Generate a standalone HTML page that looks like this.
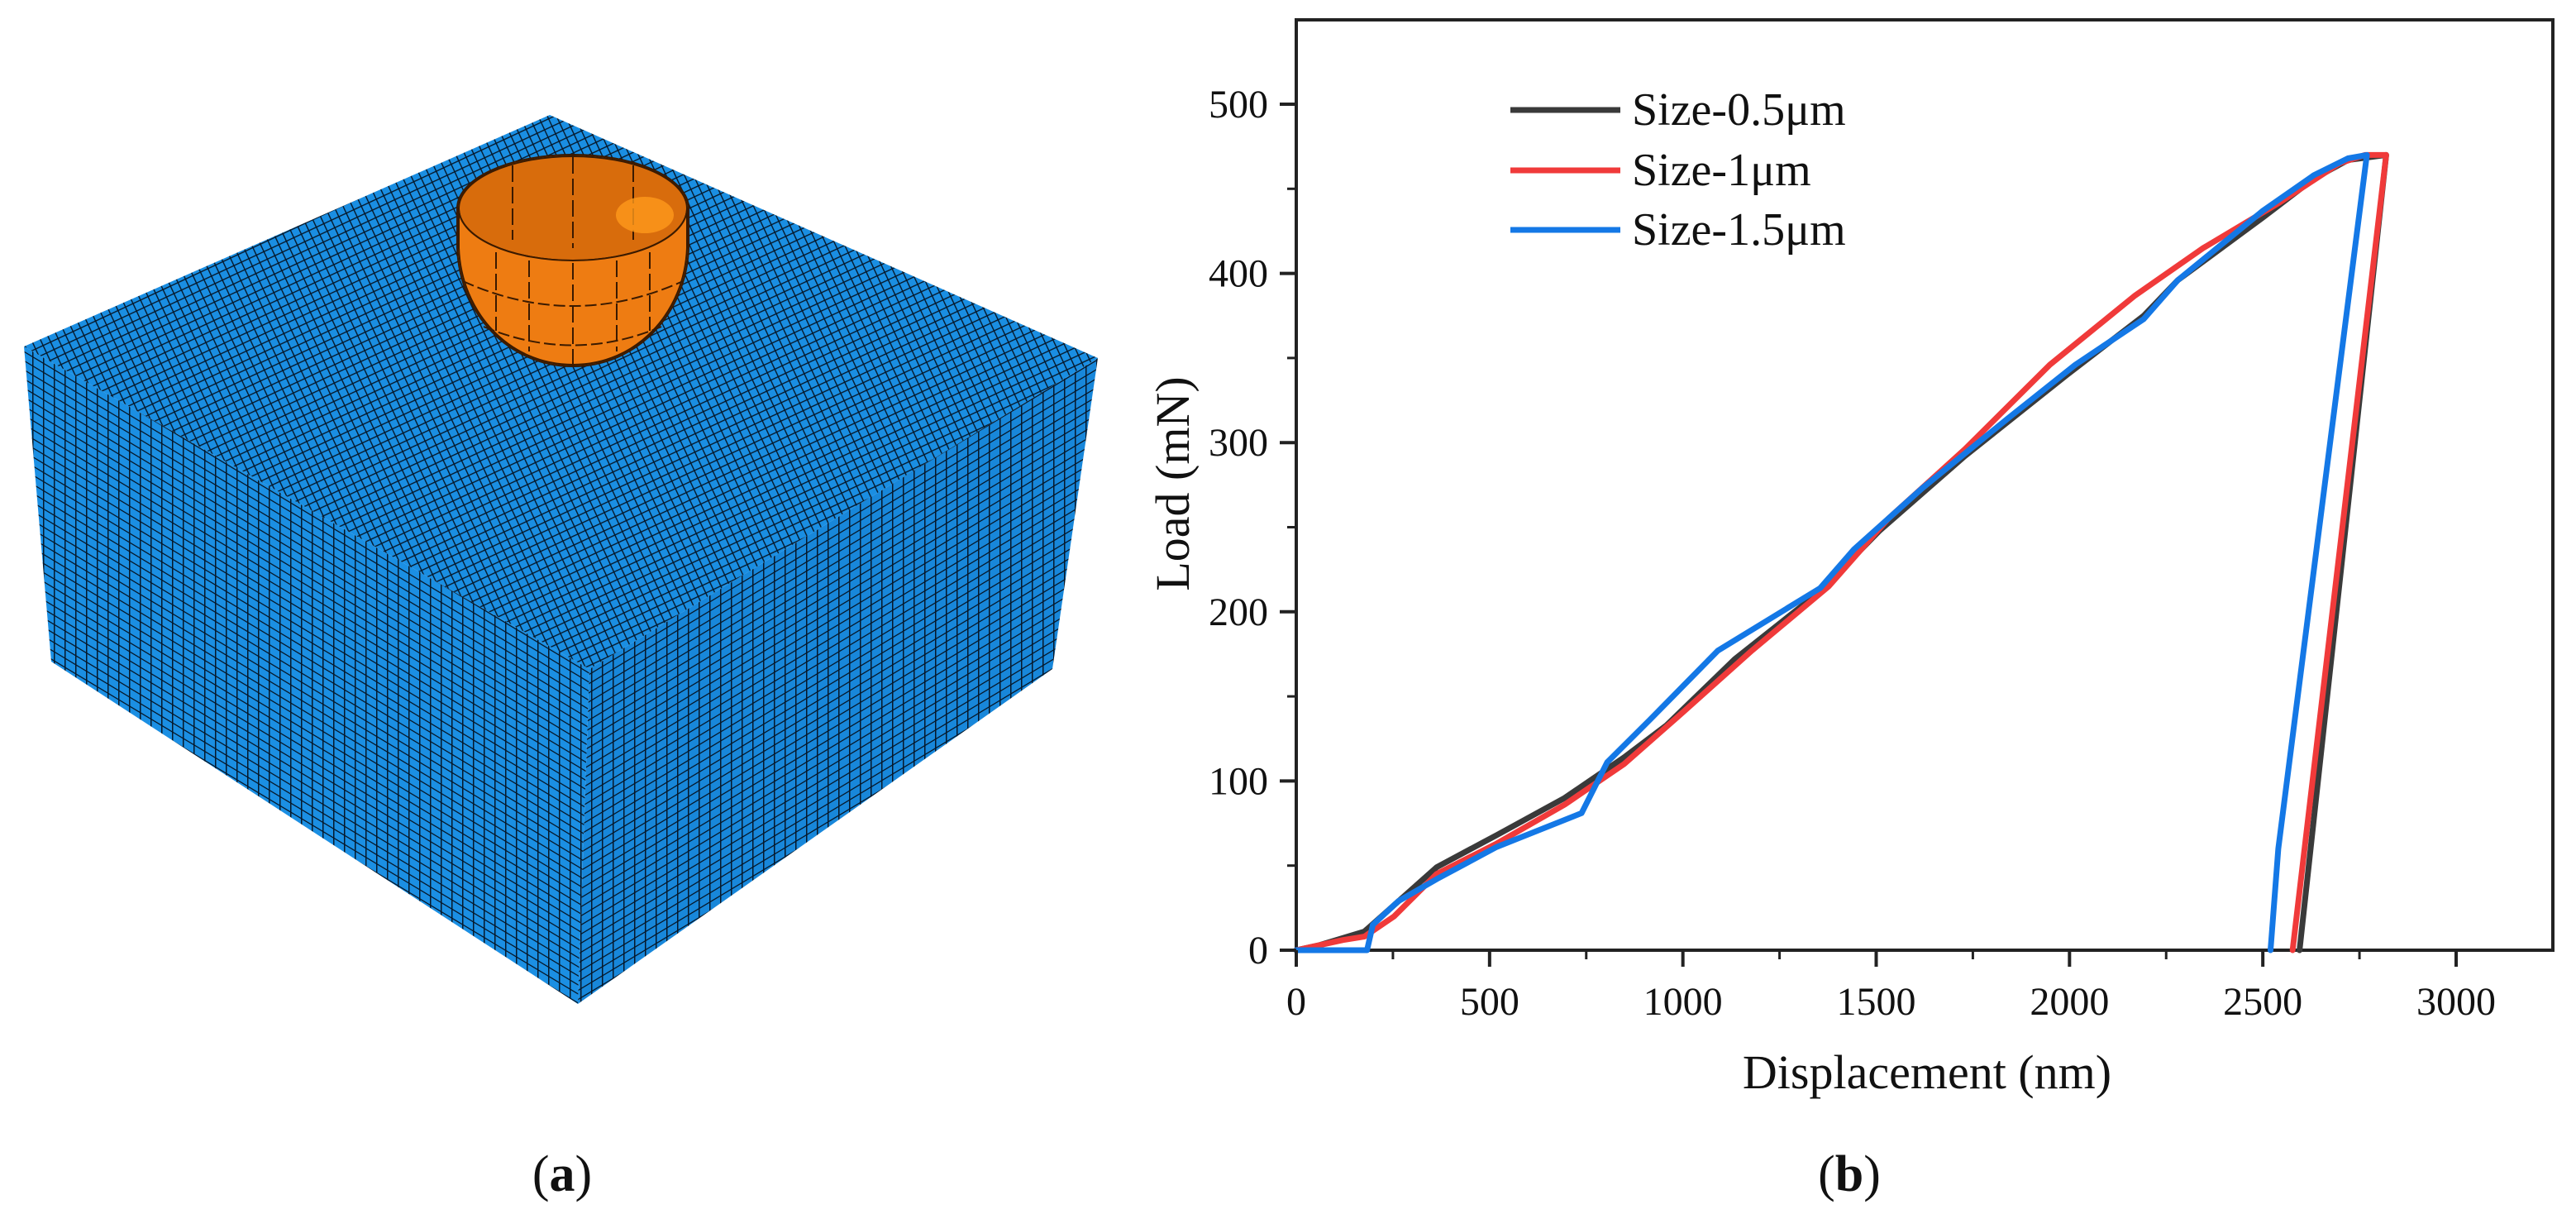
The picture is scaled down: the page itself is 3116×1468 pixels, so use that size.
<!DOCTYPE html>
<html><head><meta charset="utf-8">
<style>
html,body{margin:0;padding:0;background:#fff;}
svg{display:block;}
text{font-family:"Liberation Serif",serif;fill:#111;}
</style></head>
<body>
<svg id="fig" width="3116" height="1468" viewBox="0 0 3116 1468" xmlns="http://www.w3.org/2000/svg">
<defs>
<pattern id="meshTop" width="10" height="10" patternUnits="userSpaceOnUse" patternTransform="rotate(-25)">
<rect width="10" height="10" fill="#1a8ee2"/>
<path d="M0 0H10M0 0V10" stroke="#06182a" stroke-width="2.8"/>
</pattern>
<pattern id="meshLeft" width="13" height="11" patternUnits="userSpaceOnUse" patternTransform="skewY(31)">
<rect width="13" height="11" fill="#1b8fe3"/>
<path d="M0 0H13M0 0V11" stroke="#06182a" stroke-width="3"/>
</pattern>
<pattern id="meshRight" width="13" height="11" patternUnits="userSpaceOnUse" patternTransform="skewY(-31)">
<rect width="13" height="11" fill="#1887da"/>
<path d="M0 0H13M0 0V11" stroke="#06182a" stroke-width="3"/>
</pattern>
</defs>

<g>
<polygon points="29,419 713,809 699,1214 62,800" fill="url(#meshLeft)"/>
<polygon points="713,809 1328,433 1273,809 699,1214" fill="url(#meshRight)"/>
<polygon points="665,139 1328,433 713,809 29,419" fill="url(#meshTop)"/>
<g>
<path d="M553,252 A140,65 0 0 1 833,252 L833,300 C830,380 770,443 693,443 C616,443 556,380 553,300 Z" fill="#e8760e" stroke="#3a1a00" stroke-width="2"/>
<ellipse cx="693" cy="252" rx="138" ry="63" fill="#d86c0c" stroke="#3a1a00" stroke-width="2"/>
<path d="M555,252 A138,63 0 0 0 831,252 L831,300 C828,378 770,441 693,441 C616,441 558,378 555,300 Z" fill="#ee7c12" stroke="#3a1a00" stroke-width="2"/>
<path d="M560,340 Q693,400 826,340 M585,395 Q693,440 800,395" fill="none" stroke="#3a1a00" stroke-width="2" stroke-dasharray="14 5"/>
<path d="M600,305 L600,400 M640,315 L640,425 M693,318 L693,443 M746,315 L746,425 M786,305 L786,400 M620,200 L620,290 M693,190 L693,300 M766,200 L766,290" stroke="#3a1a00" stroke-width="2" stroke-dasharray="20 6"/>
<ellipse cx="780" cy="260" rx="35" ry="22" fill="#ff9a1c" opacity="0.8"/>
</g>
<text x="680" y="1440" font-size="62" text-anchor="middle">(<tspan font-weight="bold">a</tspan>)</text>
</g>

<g id="chart"></g>
</svg>
<script>
const seriesNames = ["Size-0.5\u03bcm", "Size-1\u03bcm", "Size-1.5\u03bcm"];
const seriesColors = ["#3a3a3a", "#f03a3a", "#1478e6"];
const xTicks = [0, 500, 1000, 1500, 2000, 2500, 3000];
const yTicks = [0, 100, 200, 300, 400, 500];
const blackX = [0, 60, 176, 363, 518, 694, 848, 958, 1134, 1355, 1509, 1729, 1993, 2192, 2280, 2500, 2632, 2720, 2819, 2595];
const blackY = [0, 3, 11, 49, 68, 90, 114, 133, 172, 212, 248, 292, 340, 375, 396, 433, 456, 467, 470, 0];
const redX = [0, 121, 176, 253, 363, 518, 694, 848, 1002, 1178, 1377, 1531, 1729, 1949, 2170, 2346, 2544, 2698, 2764, 2819, 2577];
const redY = [0, 6, 8, 20, 45, 63, 86, 110, 141, 177, 215, 255, 296, 346, 387, 415, 442, 465, 470, 470, 0];
const blueX = [0, 183, 198, 264, 363, 518, 738, 804, 914, 1090, 1355, 1443, 1619, 1839, 2015, 2192, 2280, 2500, 2632, 2720, 2769, 2540, 2520];
const blueY = [0, 0, 15, 29, 42, 61, 81, 111, 136, 177, 214, 237, 273, 314, 346, 373, 396, 437, 458, 468, 470, 60, 0];

const L = 1568, R = 3088, T = 24, B = 1149;
const XMAX = 3250, YMAX = 550;
const sx = v => L + v / 3000 * (2971 - L);
const sy = v => B - v / 500 * (B - 126);
const NS = "http://www.w3.org/2000/svg";
const g = document.getElementById('chart');
function mk(tag, attrs, parent) {
  const e = document.createElementNS(NS, tag);
  for (const k in attrs) e.setAttribute(k, attrs[k]);
  (parent || g).appendChild(e);
  return e;
}
const frame = mk('rect', {x: L, y: T, width: R - L, height: B - T, fill: 'none', stroke: '#222', 'stroke-width': 4});


const xs = [blackX, redX, blueX], ys = [blackY, redY, blueY];
for (let s = 0; s < 3; s++) {
  const d = xs[s].map((v, i) => (i ? 'L' : 'M') + sx(v).toFixed(1) + ',' + sy(ys[s][i]).toFixed(1)).join(' ');
  const p = mk('path', {d: d, fill: 'none', stroke: seriesColors[s], 'stroke-width': 7, 'stroke-linejoin': 'round', 'stroke-linecap': 'round'});
  
  
}
xTicks.forEach(v => {
  const t = mk('line', {x1: sx(v), x2: sx(v), y1: B, y2: B + 20, stroke: '#222', 'stroke-width': 4});
  
  
  const tx = mk('text', {x: sx(v), y: B + 78, 'font-size': 48, 'text-anchor': 'middle'});
  tx.textContent = v;
  
  
});
for (let v = 250; v < XMAX; v += 500) {
  const t = mk('line', {x1: sx(v), x2: sx(v), y1: B, y2: B + 11, stroke: '#222', 'stroke-width': 3});
  
  
}
yTicks.forEach(v => {
  const t = mk('line', {x1: L - 20, x2: L, y1: sy(v), y2: sy(v), stroke: '#222', 'stroke-width': 4});
  
  
  const tx = mk('text', {x: L - 34, y: sy(v) + 16, 'font-size': 48, 'text-anchor': 'end'});
  tx.textContent = v;
  
  
});
for (let v = 50; v < YMAX; v += 100) {
  const t = mk('line', {x1: L - 11, x2: L, y1: sy(v), y2: sy(v), stroke: '#222', 'stroke-width': 3});
  
  
}
const xt = mk('text', {x: 2331, y: 1316, 'font-size': 58, 'text-anchor': 'middle'});
xt.textContent = 'Displacement (nm)';


const yt = mk('text', {x: 0, y: 0, 'font-size': 58, 'text-anchor': 'middle', transform: 'translate(1438,585) rotate(-90)'});
yt.textContent = 'Load (mN)';


const legY = [133, 206, 278];
for (let s = 0; s < 3; s++) {
  const ln = mk('line', {x1: 1827, x2: 1960, y1: legY[s], y2: legY[s], stroke: seriesColors[s], 'stroke-width': 7});
  
  
  const tx = mk('text', {x: 1974, y: legY[s] + 18, 'font-size': 56});
  tx.textContent = seriesNames[s];
  
  
}
const pb = mk('text', {x: 2237, y: 1440, 'font-size': 62, 'text-anchor': 'middle'});
pb.innerHTML = '(<tspan font-weight="bold">b</tspan>)';


</script>
</body></html>
